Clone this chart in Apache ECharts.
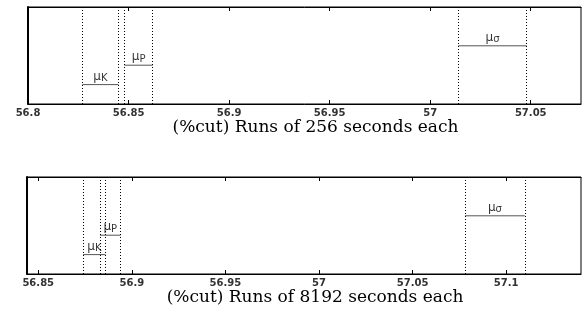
<!DOCTYPE html>
<html>
<head>
<meta charset="utf-8">
<script src="https://cdn.jsdelivr.net/npm/echarts@6/dist/echarts.min.js"></script>
<style>
  html, body { margin: 0; padding: 0; background: #fff; }
  #chart { width: 586px; height: 310px; }
</style>
</head>
<body>
<div id="chart"></div>
<script>
// interval ends for each mean
const names = ['K', 'P', 'σ'];
const levels = [0.2, 0.4, 0.6];

const topLo = [56.827, 56.848, 57.014];
const topHi = [56.845, 56.862, 57.048];
const topTicks = [56.8, 56.85, 56.9, 56.95, 57, 57.05];
const topRange = [56.8, 57.075];
const topTitle = '(%cut) Runs of 256 seconds each';

const botLo = [56.874, 56.883, 57.078];
const botHi = [56.886, 56.894, 57.110];
const botTicks = [56.85, 56.9, 56.95, 57, 57.05, 57.1];
const botRange = [56.844, 57.14];
const botTitle = '(%cut) Runs of 8192 seconds each';

const chart = echarts.init(document.getElementById('chart'));

const labelFont = 'DejaVu Sans';

function xAxes(idx, ticks, range, title, gap) {
  return [
    {
      type: 'value',
      gridIndex: idx,
      position: 'bottom',
      min: range[0],
      max: range[1],
      splitLine: { show: false },
      axisLine: { show: true, lineStyle: { color: '#000', width: 1 } },
      axisTick: { show: true, inside: true, length: 4, customValues: ticks, lineStyle: { color: '#000' } },
      axisLabel: {
        customValues: ticks,
        margin: 4,
        fontFamily: labelFont,
        fontSize: 10,
        fontWeight: 'bold',
        color: '#333',
        formatter: (v) => String(+v.toFixed(3)),
      },
      name: title,
      nameLocation: 'middle',
      nameGap: gap,
      nameTextStyle: { fontFamily: 'DejaVu Serif', fontSize: 17, color: '#000', padding: [0, 0, 0, 22] },
    },
    {
      type: 'value',
      gridIndex: idx,
      position: 'top',
      min: range[0],
      max: range[1],
      splitLine: { show: false },
      axisLine: { show: true, lineStyle: { color: '#000', width: 1 } },
      axisTick: { show: true, inside: true, length: 4, customValues: ticks, lineStyle: { color: '#000' } },
      axisLabel: { show: false },
    },
  ];
}

function yAxis(idx) {
  return {
    type: 'value',
    gridIndex: idx,
    min: 0,
    max: 1,
    splitLine: { show: false },
    axisLine: { show: true, lineStyle: { color: '#000', width: 2 } },
    axisTick: { show: false },
    axisLabel: { show: false },
  };
}

function plotSeries(idx, lo, hi) {
  const xi = idx * 2;
  const out = [];
  lo.forEach((l, i) => {
    out.push({
      type: 'line',
      xAxisIndex: xi,
      yAxisIndex: idx,
      data: [[l, levels[i]], [hi[i], levels[i]]],
      symbol: 'none',
      lineStyle: { color: '#555', width: 1 },
      silent: true,
      animation: false,
    });
  });
  out.push({
    type: 'scatter',
    xAxisIndex: xi,
    yAxisIndex: idx,
    symbolSize: 0,
    data: lo.map((l, i) => ({ value: [(l + hi[i]) / 2, levels[i]], name: names[i] })),
    label: {
      show: true,
      position: 'top',
      distance: 1,
      formatter: (p) => '{m|μ}{s|' + p.name + '}',
      rich: {
        m: { fontFamily: labelFont, fontSize: 12, color: '#000' },
        s: { fontFamily: labelFont, fontSize: 10, color: '#000', padding: [4, 0, 0, 0], verticalAlign: 'bottom' },
      },
    },
    markLine: {
      silent: true,
      precision: 4,
      symbol: ['none', 'none'],
      label: { show: false },
      lineStyle: { color: '#000', type: [1, 2], width: 1 },
      data: lo.concat(hi).map((v) => ({ xAxis: v })),
      animation: false,
    },
    animation: false,
  });
  return out;
}

chart.setOption({
  animation: false,
  grid: [
    { left: 28, right: 5, top: 7, height: 97, show: true, borderColor: '#000', borderWidth: 1 },
    { left: 27, right: 5, top: 177, height: 97, show: true, borderColor: '#000', borderWidth: 1 },
  ],
  xAxis: xAxes(0, topTicks, topRange, topTitle, 15).concat(xAxes(1, botTicks, botRange, botTitle, 13)),
  yAxis: [yAxis(0), yAxis(1)],
  series: plotSeries(0, topLo, topHi).concat(plotSeries(1, botLo, botHi)),
});

window.addEventListener('resize', () => {
  chart.resize();
});
</script>
</body>
</html>
